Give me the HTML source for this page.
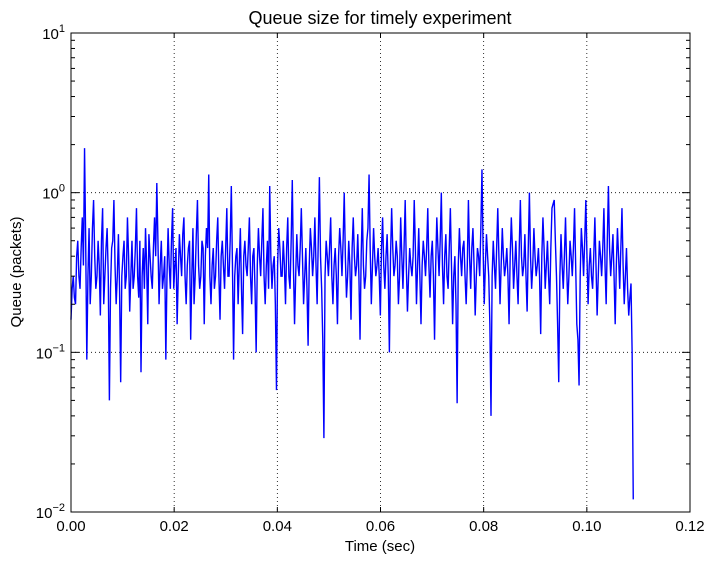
<!DOCTYPE html>
<html><head><meta charset="utf-8">
<style>
body{margin:0;background:#fff;font-family:"Liberation Sans","DejaVu Sans",sans-serif;}
svg text{font-family:"Liberation Sans","DejaVu Sans",sans-serif;fill:#000;}
</style></head>
<body>
<svg id="chart" width="718" height="564" viewBox="0 0 718 564">
<rect width="718" height="564" fill="#fff"/>
<g id="grid"></g>
<g id="series"></g>
<rect x="71" y="33" width="619" height="479" fill="none" stroke="#000" stroke-width="1"/>
<g id="axes"></g>
<text x="380" y="24" font-size="18" text-anchor="middle">Queue size for timely experiment</text>
<text x="380" y="551" font-size="15" text-anchor="middle">Time (sec)</text>
<text x="21" y="272" font-size="15" text-anchor="middle" transform="rotate(-90 21 272)">Queue (packets)</text>
</svg>
<script>
const xTicks=[0,0.02,0.04,0.06,0.08,0.10,0.12];
const xTickLabels=["0.00","0.02","0.04","0.06","0.08","0.10","0.12"];
const yTickExps=[-2,-1,0,1];
const tEnd=0.109;
// main samples
const queue=[
0.16,0.3,0.2,0.5,0.25,0.7,1.9,0.09,0.6,0.3,
0.9,0.25,0.5,0.17,0.8,0.3,0.6,0.05,0.45,0.9,
0.2,0.55,0.065,0.4,0.25,0.7,0.18,0.5,0.3,0.8,
0.22,0.075,0.45,0.6,0.15,0.4,0.25,0.7,1.15,0.2,
0.5,0.3,0.09,0.6,0.25,0.8,0.35,0.15,0.55,0.3,
0.7,0.2,0.45,0.12,0.6,0.3,0.9,0.25,0.5,0.15,
0.6,1.3,0.2,0.45,0.3,0.7,0.16,0.5,0.25,0.8,
0.3,1.1,0.09,0.4,0.2,0.6,0.13,0.5,0.3,0.7,
0.2,0.45,0.1,0.6,0.3,0.8,0.2,0.5,1.1,0.25,
0.4,0.058,0.6,0.3,0.5,0.2,0.7,0.25,1.2,0.15,
0.55,0.3,0.8,0.2,0.45,0.11,0.6,0.3,0.7,0.2,
1.25,0.25,0.029,0.5,0.3,0.7,0.2,0.45,0.15,0.6,
0.3,1.0,0.22,0.5,0.16,0.7,0.3,0.55,0.12,0.8,
0.25,0.5,1.3,0.2,0.6,0.3,0.45,0.17,0.7,0.25,
0.55,0.1,0.8,0.3,0.5,0.2,0.7,0.25,0.9,0.18,
0.45,0.3,0.9,0.2,0.6,0.15,0.5,0.3,0.8,0.22,
0.5,0.12,0.7,0.3,1.0,0.2,0.55,0.25,0.8,0.15,
0.4,0.048,0.6,0.3,0.5,0.2,0.9,0.25,0.6,0.17,
0.45,0.3,1.4,0.2,0.55,0.3,0.04,0.5,0.25,0.8,
0.2,0.6,0.3,0.45,0.15,0.7,0.25,0.5,0.2,0.9,
0.3,0.55,0.18,1.0,0.25,0.6,0.3,0.45,0.13,0.7,
0.25,0.5,0.2,0.8,0.9,0.3,0.065,0.55,0.25,0.7,
0.2,0.5,0.3,0.8,0.15,0.062,0.6,0.3,0.9,0.2,
0.45,0.25,0.7,0.17,0.5,0.3,0.8,0.2,1.1,0.3,
0.55,0.15,0.6,0.25,0.8,0.2,0.45,0.17,0.27,0.012];
// intermediate samples between consecutive main samples
const queueMid=[
0.25,0.22,0.4,0.3,0.45,0.35,0.5,0.3,0.2,0.6,
0.4,0.3,0.35,0.5,0.2,0.45,0.3,0.25,0.5,0.35,
0.3,0.25,0.3,0.5,0.3,0.4,0.3,0.25,0.45,0.3,
0.5,0.3,0.25,0.35,0.55,0.3,0.45,0.4,0.5,0.35,
0.25,0.4,0.3,0.35,0.5,0.25,0.45,0.3,0.4,0.55,
0.3,0.35,0.5,0.3,0.2,0.55,0.35,0.3,0.45,0.4,
0.45,0.3,0.35,0.25,0.5,0.3,0.4,0.35,0.45,0.3,
0.5,0.35,0.3,0.45,0.35,0.25,0.4,0.35,0.45,0.3,
0.4,0.25,0.35,0.4,0.5,0.3,0.35,0.25,0.4,0.35,
0.2,0.35,0.45,0.3,0.35,0.45,0.3,0.5,0.35,0.3,
0.35,0.45,0.4,0.3,0.25,0.35,0.45,0.4,0.35,0.5,
0.4,0.12,0.3,0.4,0.45,0.3,0.35,0.3,0.4,0.45,
0.5,0.4,0.3,0.35,0.45,0.4,0.35,0.3,0.4,0.35,
0.3,0.6,0.45,0.35,0.4,0.35,0.3,0.45,0.35,0.4,
0.3,0.4,0.45,0.35,0.4,0.3,0.4,0.45,0.35,0.3,
0.35,0.4,0.45,0.35,0.3,0.35,0.4,0.45,0.35,0.4,
0.3,0.35,0.45,0.5,0.35,0.4,0.3,0.45,0.35,0.3,
0.2,0.35,0.4,0.45,0.3,0.35,0.4,0.45,0.35,0.3,
0.4,0.6,0.45,0.35,0.4,0.15,0.3,0.35,0.45,0.4,
0.35,0.4,0.35,0.3,0.4,0.45,0.35,0.3,0.45,0.4,
0.35,0.3,0.45,0.4,0.35,0.4,0.35,0.3,0.4,0.45,
0.35,0.3,0.45,0.85,0.5,0.15,0.3,0.35,0.4,0.35,
0.3,0.4,0.45,0.35,0.12,0.3,0.45,0.5,0.4,0.35,
0.3,0.4,0.35,0.3,0.4,0.45,0.35,0.5,0.45,0.4,
0.3,0.35,0.4,0.45,0.35,0.3,0.25,0.22,0.1];

const L=71,R=690,T=33,B=512;
const xMin=0,xMax=0.12,yMinE=-2,yMaxE=1;
function sx(v){return L+(v-xMin)/(xMax-xMin)*(R-L);}
function sy(v){return B-(Math.log10(v)-yMinE)/(yMaxE-yMinE)*(B-T);}
const NS="http://www.w3.org/2000/svg";
function mk(tag,attrs,parent){const e=document.createElementNS(NS,tag);for(const k in attrs)e.setAttribute(k,attrs[k]);parent.appendChild(e);return e;}
const grid=document.getElementById('grid'),axes=document.getElementById('axes'),series=document.getElementById('series');

xTicks.forEach((v,i)=>{
  const x=sx(v);
  if(i>0&&i<xTicks.length-1){
    const g=mk('line',{x1:x,x2:x,y1:T,y2:B,stroke:'#000','stroke-dasharray':'1,3','stroke-width':0.8},grid);
    
    
  }
  const t1=mk('line',{x1:x,x2:x,y1:B,y2:B-5,stroke:'#000'},axes);
  
  
  const t2=mk('line',{x1:x,x2:x,y1:T,y2:T+5,stroke:'#000'},axes);
  
  
  const lb=mk('text',{x:x,y:B+19,'font-size':15,'text-anchor':'middle'},axes);
  lb.textContent=xTickLabels[i];
  
  
});

yTickExps.forEach((e,i)=>{
  const y=sy(Math.pow(10,e));
  if(i>0&&i<yTickExps.length-1){
    const g=mk('line',{x1:L,x2:R,y1:y,y2:y,stroke:'#000','stroke-dasharray':'1,3','stroke-width':0.8},grid);
    
    
  }
  const t1=mk('line',{x1:L,x2:L+8,y1:y,y2:y,stroke:'#000'},axes);
  
  
  const t2=mk('line',{x1:R,x2:R-8,y1:y,y2:y,stroke:'#000'},axes);
  
  
  if(e<yMaxE){
    for(let m=2;m<10;m++){
      const yy=sy(m*Math.pow(10,e));
      const a=mk('line',{x1:L,x2:L+4,y1:yy,y2:yy,stroke:'#000'},axes);
      
      
      const b=mk('line',{x1:R,x2:R-4,y1:yy,y2:yy,stroke:'#000'},axes);
      
      
    }
  }
  const lb=mk('text',{x:L-6,y:y+6,'font-size':15,'text-anchor':'end'},axes);
  
  
  const base=document.createElementNS(NS,'tspan');base.textContent='10';lb.appendChild(base);
  const sup=document.createElementNS(NS,'tspan');sup.setAttribute('dy','-7');sup.setAttribute('font-size','11');sup.textContent=String(e).replace('-','\u2212');lb.appendChild(sup);
});

const n=queue.length;
const step=tEnd/(n-1);
const pts=[];
queue.forEach((v,i)=>{
  pts.push(sx(i*step).toFixed(2)+','+sy(v).toFixed(2));
  if(i<n-1 && i<queueMid.length){
    pts.push(sx((i+0.5)*step).toFixed(2)+','+sy(queueMid[i]).toFixed(2));
  }
});
const line=mk('polyline',{points:pts.join(' '),fill:'none',stroke:'#0000ff','stroke-width':1.4,'stroke-linejoin':'miter'},series);


</script>
</body></html>
